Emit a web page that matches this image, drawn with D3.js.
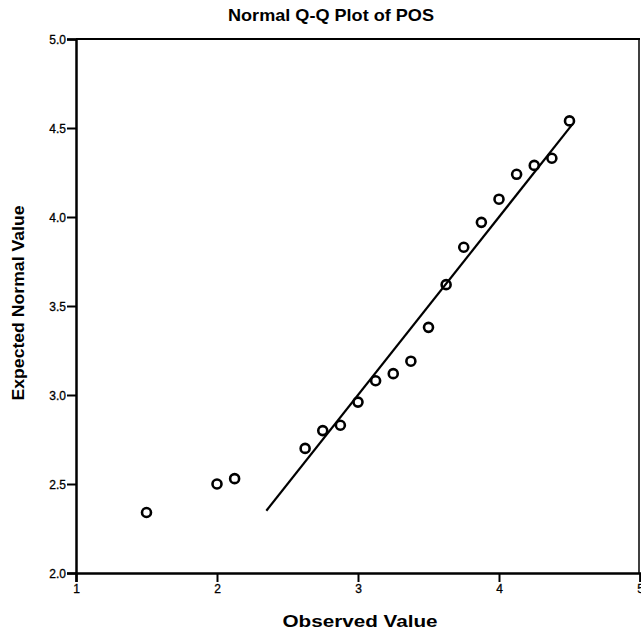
<!DOCTYPE html>
<html>
<head>
<meta charset="utf-8">
<script src="https://cdn.jsdelivr.net/npm/d3@7"></script>
<style>
  body { margin: 0; background: #fff; }
  text { font-family: "Liberation Sans", Arial, sans-serif; fill: #000; }
</style>
</head>
<body>
<div id="chart"></div>
<script>
var observed = [1.5, 2.0, 2.125, 2.625, 2.75, 2.875, 3.0, 3.125, 3.25, 3.375,
                3.5, 3.625, 3.75, 3.875, 4.0, 4.125, 4.25, 4.375, 4.5];
var expected = [2.34, 2.50, 2.53, 2.70, 2.80, 2.83, 2.96, 3.08, 3.12, 3.19,
                3.38, 3.62, 3.83, 3.97, 4.10, 4.24, 4.29, 4.33, 4.54];
var refLine = [2.35, 4.52];
var xTicks = [1, 2, 3, 4, 5];
var yTicks = [2.0, 2.5, 3.0, 3.5, 4.0, 4.5, 5.0];

var margin = { top: 39, right: 1, bottom: 64, left: 76 },
    width = 641 - margin.left - margin.right,
    height = 637 - margin.top - margin.bottom;

var svg = d3.select("#chart")
    .append("svg")
    .attr("width", 641)
    .attr("height", 637)
    .append("g")
    .attr("transform", "translate(" + margin.left + "," + margin.top + ")");

var x = d3.scaleLinear().domain([1, 5]).range([0, width]);
var y = d3.scaleLinear().domain([2, 5]).range([height, 0]);

// title
svg.append("text")
    .attr("x", 255)
    .attr("y", -18)
    .attr("text-anchor", "middle")
    .style("font-size", "17px")
    .style("font-weight", "bold")
    .attr("textLength", 206)
    .attr("lengthAdjust", "spacingAndGlyphs")
    .text("Normal Q-Q Plot of POS");

// frame (top + right)
svg.append("line").attr("x1", 0).attr("x2", width).attr("y1", 0).attr("y2", 0)
    .attr("stroke", "#000").attr("stroke-width", 2);
svg.append("line").attr("x1", width - 1).attr("x2", width - 1).attr("y1", 0).attr("y2", height)
    .attr("stroke", "#000").attr("stroke-width", 1.5);

var xAxis = svg.append("g")
    .attr("transform", "translate(0," + height + ")")
    .call(d3.axisBottom(x).tickValues(xTicks).tickFormat(d3.format("d")).tickSize(9).tickPadding(2));

var yAxis = svg.append("g")
    .call(d3.axisLeft(y).tickValues(yTicks).tickFormat(d3.format(".1f")).tickSize(9).tickPadding(1));

[xAxis, yAxis].forEach(function (g) {
    g.select(".domain").attr("stroke-width", 2.5);
    g.selectAll(".tick line").attr("stroke-width", 2);
    g.selectAll(".tick text")
        .style("font-size", "12px")
        .style("font-family", "'Liberation Sans', Arial, sans-serif")
        .attr("fill", "#000")
        .attr("stroke", "#000")
        .attr("stroke-width", 0.3);
});
yAxis.selectAll(".tick text").attr("dy", "0.35em");

// axis titles
svg.append("text")
    .attr("x", 284)
    .attr("y", height + 54)
    .attr("text-anchor", "middle")
    .style("font-size", "17px")
    .style("font-weight", "bold")
    .attr("textLength", 155)
    .attr("lengthAdjust", "spacingAndGlyphs")
    .text("Observed Value");

svg.append("text")
    .attr("transform", "translate(-52," + (y(3.5) - 3) + ") rotate(-90)")
    .attr("text-anchor", "middle")
    .style("font-size", "17px")
    .style("font-weight", "bold")
    .attr("textLength", 195)
    .attr("lengthAdjust", "spacingAndGlyphs")
    .text("Expected Normal Value");

// reference line y = x
svg.append("line")
    .attr("x1", x(refLine[0])).attr("y1", y(refLine[0]))
    .attr("x2", x(refLine[1])).attr("y2", y(refLine[1]))
    .attr("stroke", "#000")
    .attr("stroke-width", 2.2);

// points
var pts = observed.map(function (o, i) { return { o: o, e: expected[i] }; });
svg.append("g")
    .selectAll("circle")
    .data(pts)
    .enter().append("circle")
    .attr("cx", function (d) { return x(d.o); })
    .attr("cy", function (d) { return y(d.e); })
    .attr("r", 4.5)
    .attr("fill", "none")
    .attr("stroke", "#000")
    .attr("stroke-width", 2.6);
</script>
</body>
</html>
